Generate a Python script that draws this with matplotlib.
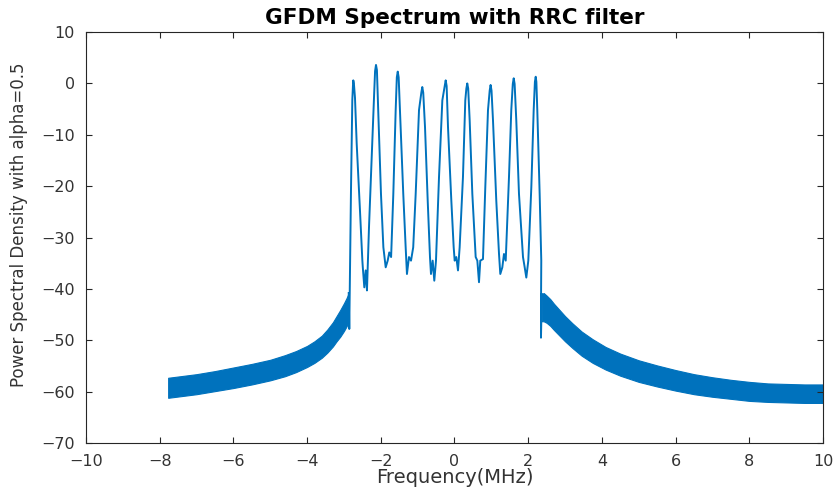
"""GFDM spectrum with RRC filter (alpha = 0.5), MATLAB-style look."""

import matplotlib
matplotlib.use("Agg")
import matplotlib.pyplot as plt
from matplotlib import rcParams

rcParams["font.family"] = ["DejaVu Sans"]
rcParams["axes.linewidth"] = 0.8

LINE_BLUE = "#0072BD"
AXIS_GREY = "#262626"
TEXT_GREY = "#333333"

# out-of-band leakage, drawn as a dense band: upper / lower envelope (dB)
left_band_f = [-7.77, -7.0, -6.5, -6.0, -5.5, -5.0, -4.6, -4.3, -4.0, -3.8, -3.6,
               -3.45, -3.3, -3.2, -3.1, -3.0, -2.93, -2.87]
left_band_hi = [-57.3, -56.6, -56.0, -55.3, -54.6, -53.8, -52.9, -52.1, -51.1, -50.2, -49.1,
                -47.9, -46.5, -45.3, -44.1, -42.8, -41.8, -40.8]
left_band_lo = [-61.2, -60.5, -59.9, -59.3, -58.6, -57.8, -57.0, -56.2, -55.2, -54.4, -53.4,
                -52.4, -51.2, -50.2, -49.3, -48.2, -47.3, -46.3]

right_band_f = [2.37, 2.42, 2.50, 2.60, 2.70, 2.85, 3.0, 3.2, 3.45, 3.75, 4.1, 4.5,
                5.0, 5.5, 6.0, 6.5, 7.0, 7.5, 8.0, 8.5, 9.0, 9.5, 10.0]
right_band_hi = [-41.0, -40.8, -41.3, -42.0, -42.9, -44.1, -45.3, -46.7, -48.3, -49.8, -51.3, -52.6,
                 -53.9, -54.9, -55.8, -56.6, -57.2, -57.7, -58.1, -58.4, -58.5, -58.6, -58.6]
right_band_lo = [-46.3, -46.3, -46.6, -47.2, -48.0, -49.1, -50.2, -51.5, -53.0, -54.4, -55.7, -56.9,
                 -58.1, -59.0, -59.8, -60.5, -61.0, -61.4, -61.8, -62.0, -62.1, -62.2, -62.2]

# in-band trace: nine sub-carrier lobes (frequency in MHz, PSD in dB)
inband_f = [
    -2.87, -2.855, -2.81, -2.773, -2.755, -2.746, -2.73,
    -2.70, -2.654, -2.565, -2.50, -2.49, -2.447, -2.41, -2.375,
    -2.32, -2.25, -2.18, -2.155, -2.13, -2.105,
    -2.07, -1.995, -1.93, -1.867, -1.813, -1.77, -1.72,
    -1.66, -1.596, -1.565, -1.54, -1.515,
    -1.48, -1.39, -1.325, -1.29, -1.235, -1.18, -1.12,
    -1.053, -0.963, -0.90, -0.874, -0.848,
    -0.80, -0.727, -0.665, -0.638, -0.592, -0.548, -0.502,
    -0.42, -0.33, -0.265, -0.239, -0.213,
    -0.176, -0.086, -0.022, 0.005, 0.049, 0.095, 0.14,
    0.23, 0.293, 0.322, 0.347, 0.372,
    0.412, 0.484, 0.575, 0.62, 0.665, 0.70, 0.773,
    0.836, 0.909, 0.955, 0.98, 1.005,
    1.045, 1.134, 1.208, 1.243, 1.298, 1.343, 1.39,
    1.479, 1.541, 1.582, 1.607, 1.632,
    1.677, 1.75, 1.859, 1.905, 1.949, 2.003,
    2.085, 2.149, 2.182, 2.204, 2.222,
    2.247, 2.311, 2.355, 2.35, 2.347, 2.37,
]
inband_db = [
    -40.8, -47.8, -21.5, -3.3, -0.4, 0.6, 0.0,
    -2.8, -11.7, -24.7, -34.5, -35.6, -39.7, -36.4, -40.3,
    -28.0, -15.0, -2.0, 2.4, 3.6, 2.6,
    -5.2, -21.5, -31.9, -35.8, -34.5, -32.9, -33.8,
    -21.5, -5.2, 1.2, 2.3, 1.2,
    -5.2, -21.5, -31.9, -37.1, -33.8, -34.5, -31.9,
    -21.5, -5.2, -1.8, -0.7, -1.8,
    -8.5, -22.8, -33.8, -37.1, -34.5, -38.4, -34.5,
    -18.2, -3.3, -0.5, 0.6, -0.5,
    -8.5, -22.8, -31.9, -34.5, -33.8, -36.4, -31.9,
    -18.2, -3.3, -1.0, 0.0, -1.0,
    -7.2, -21.5, -33.8, -34.5, -38.7, -34.5, -34.2,
    -20.2, -5.2, -1.4, -0.3, -1.4,
    -7.2, -22.8, -33.2, -37.1, -35.8, -33.2, -34.5,
    -18.2, -5.2, -0.1, 1.0, -0.1,
    -7.2, -21.5, -33.8, -35.8, -37.8, -34.5,
    -20.2, -5.2, 0.3, 1.3, 0.3,
    -5.2, -21.5, -34.5, -40.3, -49.5, -41.0,
]

x_ticks = [-10, -8, -6, -4, -2, 0, 2, 4, 6, 8, 10]
y_ticks = [-70, -60, -50, -40, -30, -20, -10, 0, 10]


def main():
    fig = plt.figure(figsize=(8.38, 4.99), dpi=100)
    ax = fig.add_axes([0.1026, 0.1122, 0.8795, 0.8236])

    for f, hi, lo in ((left_band_f, left_band_hi, left_band_lo),
                      (right_band_f, right_band_hi, right_band_lo)):
        ax.fill_between(f, lo, hi, color=LINE_BLUE, linewidth=0.8,
                        edgecolor=LINE_BLUE)
    ax.plot(inband_f, inband_db, color=LINE_BLUE, linewidth=1.4,
            solid_joinstyle="round")

    ax.set_xlim(-10, 10)
    ax.set_ylim(-70, 10)
    ax.set_xticks(x_ticks)
    ax.set_yticks(y_ticks)
    ax.tick_params(direction="in", length=4, width=0.8, top=True, right=True,
                   color=AXIS_GREY, labelcolor=TEXT_GREY, labelsize=11.5, pad=8)
    for spine in ax.spines.values():
        spine.set_color(AXIS_GREY)

    ax.set_title("GFDM Spectrum with RRC filter", fontsize=15.5,
                 fontweight="bold", pad=6)
    ax.set_xlabel("Frequency(MHz)", fontsize=14, color=TEXT_GREY)
    ax.set_ylabel("Power Spectral Density with alpha=0.5", fontsize=12,
                  color=TEXT_GREY)
    ax.xaxis.set_label_coords(0.5, -0.06)
    ax.yaxis.set_label_coords(-0.079, 0.53)

    fig.savefig("out.png", dpi=100, facecolor="white")


if __name__ == "__main__":
    main()
